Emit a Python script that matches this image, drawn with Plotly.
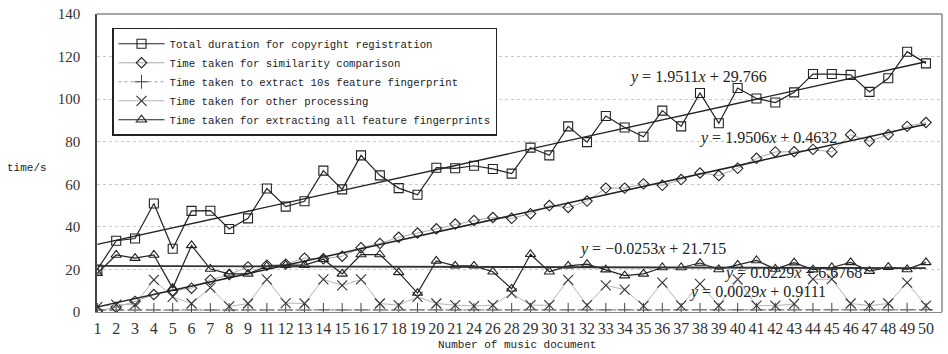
import plotly.graph_objects as go

categories = ["1", "2", "3", "4", "5", "6", "7", "8", "9", "11", "12", "13", "14", "15", "16",
              "17", "18", "19", "20", "21", "24", "26", "28", "29", "30", "31", "32", "33", "34",
              "35", "36", "37", "38", "39", "40", "41", "42", "43", "44", "45", "46", "47", "48",
              "49", "50"]

total_duration = [20, 33.5, 34.5, 51, 29.7, 47.5, 47.6, 39, 44, 58, 49.5, 52, 66.4, 57.6, 73.6,
                  64.2, 58.2, 55.1, 67.8, 67.5, 68.7, 67.2, 65, 77.2, 73.6, 87.2, 79.8, 92.1, 86.7,
                  82.3, 94.6, 87.2, 102.9, 88.7, 105.2, 100.3, 98.4, 103.2, 111.8, 111.8, 111.4,
                  103.4, 109.8, 122.3, 116.8]

similarity = [0.5, 2.2, 5, 8.2, 10, 11.2, 15.1, 17.6, 21.2, 22, 22.5, 25.3, 25, 26.2, 30.2,
              32.2, 35.1, 37.1, 39.1, 41.3, 43, 44.4, 44, 46.2, 50, 49.1, 52.1, 58.2, 58.2,
              60.2, 59.5, 62.2, 65.3, 64.1, 67.5, 72.2, 75.2, 75.3, 76.4, 75.2, 83.3, 80.2, 83.3,
              87.2, 89]

fingerprint_10s = [0.95, 0.92, 0.94, 0.97, 0.93, 0.96, 0.95, 0.94, 0.98, 0.95, 0.97, 0.94, 0.99,
                   0.96, 0.98, 0.97, 0.95, 0.99, 0.98, 0.96, 1.0, 0.97, 0.99, 1.0, 0.98, 1.01,
                   0.99, 1.0, 1.02, 0.98, 1.01, 1.0, 1.03, 0.99, 1.02, 1.01, 1.03, 1.0, 1.02, 1.04,
                   1.01, 1.03, 1.02, 1.04, 1.03]

other_processing = [2.4, 3.5, 3.5, 15.1, 7.1, 4, 11.4, 2.6, 4, 15.3, 4.2, 4, 15.3, 12.5, 15.3,
                    4, 3.2, 7.1, 4, 3.2, 2.8, 3.2, 8.9, 3.2, 3.2, 15.1, 3.2, 12.5, 10.5,
                    2.9, 13.8, 3, 13.2, 3, 15.3, 3, 3, 3.8, 15.4, 15.4, 4, 3, 4, 13.8, 3]

all_fingerprints = [18.2, 26.8, 25.3, 26.8, 11.2, 31.3, 20.2, 17.9, 17.9, 21.5, 22, 22, 24.8, 17.9,
                    27, 27, 18.6, 8.9, 24, 21.7, 21.7, 18.9, 10.9, 27.1, 18.9, 21.7, 22.5, 19.9,
                    17.1, 17.9, 20.9, 20.9, 23, 20, 22.1, 24.2, 20.2, 23.2, 19.9, 20.9, 23.3, 19.2,
                    21.1, 20, 23.3]

series_names = ["Total duration for copyright registration",
                "Time taken for similarity comparison",
                "Time taken to extract 10s feature fingerprint",
                "Time taken for other processing",
                "Time taken for extracting all feature fingerprints"]

# trendline coefficients (slope, intercept) as printed on the chart
trend_total = (1.9511, 29.766)
trend_similarity = (1.9506, 0.4632)
trend_all_fp = (-0.0253, 21.715)
trend_10s = (0.0029, 0.9111)
trend_other = (0.0229, 6.6768)

eq_labels = ["<i>y</i> = 1.9511<i>x</i> + 29.766",
             "<i>y</i> = 1.9506<i>x</i> + 0.4632",
             "<i>y</i> = −0.0253<i>x</i> + 21.715",
             "<i>y</i> = 0.0229<i>x</i> + 6.6768",
             "<i>y</i> = 0.0029<i>x</i> + 0.9111"]

W, H = 948, 354
L, R, T, B = 97, 6, 9, 42
pw, ph = W - L - R, H - T - B


def px(x):
    return (x - L) / pw


def py(y):
    return (H - B - y) / ph


fig = go.Figure()

ends = [categories[0], categories[-1]]
n = len(categories)


def trend(coef, color, width, dash="solid"):
    a, b = coef
    fig.add_trace(go.Scatter(x=ends, y=[a * 1 + b, a * n + b], mode="lines",
                             line=dict(color=color, width=width, dash=dash),
                             showlegend=False, hoverinfo="skip"))


fig.add_trace(go.Scatter(x=categories, y=total_duration, name=series_names[0], mode="lines+markers",
                         line=dict(color="#222", width=1.2),
                         marker=dict(symbol="square-open", size=9, color="#222", line=dict(width=1.1))))
fig.add_trace(go.Scatter(x=categories, y=similarity, name=series_names[1], mode="lines+markers",
                         line=dict(color="#aaa", width=1),
                         marker=dict(symbol="diamond-open", size=8, color="#222", line=dict(width=1.1))))
fig.add_trace(go.Scatter(x=categories, y=fingerprint_10s, name=series_names[2], mode="lines+markers",
                         line=dict(color="#999", width=1, dash="dot"),
                         marker=dict(symbol="cross-thin-open", size=10, color="#444", line=dict(width=1, color="#444"))))
fig.add_trace(go.Scatter(x=categories, y=other_processing, name=series_names[3], mode="lines+markers",
                         line=dict(color="#b5b5b5", width=1),
                         marker=dict(symbol="x-thin-open", size=10, color="#333", line=dict(width=1.1, color="#333"))))
fig.add_trace(go.Scatter(x=categories, y=all_fingerprints, name=series_names[4], mode="lines+markers",
                         line=dict(color="#222", width=1.2),
                         marker=dict(symbol="triangle-up-open", size=9, color="#222", line=dict(width=1.1))))

trend(trend_total, "#222", 1.3)
trend(trend_similarity, "#222", 1.5)
trend(trend_all_fp, "#333", 1.8)
trend(trend_10s, "#999", 1, "dot")

eq_pos = [(627, 73), (697, 135), (577, 248), (722, 272), (687, 292)]
for txt, (ex, ey) in zip(eq_labels, eq_pos):
    fig.add_annotation(text=txt, xref="paper", yref="paper", x=px(ex), y=py(ey),
                       xanchor="left", yanchor="middle", showarrow=False,
                       font=dict(family="Liberation Serif", size=16, color="#222"))

fig.add_annotation(text="time/s", xref="paper", yref="paper", x=px(5), y=py(166),
                   xanchor="left", yanchor="middle", showarrow=False,
                   font=dict(family="Liberation Mono", size=11, color="#222"))
fig.add_annotation(text="Number of music document", xref="paper", yref="paper", x=px(517), y=py(346),
                   xanchor="center", yanchor="middle", showarrow=False,
                   font=dict(family="Liberation Mono", size=11, color="#222"))

# plot frame (top and right)
fig.add_shape(type="line", xref="paper", yref="paper", x0=0, x1=1, y0=1, y1=1,
              line=dict(color="#888", width=1.5))
fig.add_shape(type="line", xref="paper", yref="paper", x0=1, x1=1, y0=0, y1=1,
              line=dict(color="#888", width=1.5))

fig.update_layout(
    width=W, height=H,
    margin=dict(l=L, r=R, t=T, b=B),
    paper_bgcolor="white", plot_bgcolor="white",
    font=dict(family="Liberation Serif", color="#222"),
    legend=dict(x=px(112), y=py(23), xanchor="left", yanchor="top",
                bordercolor="#222", borderwidth=1.5, bgcolor="white",
                font=dict(family="Liberation Mono", size=10.7, color="#222"),
                itemwidth=46, tracegroupgap=0, entrywidth=345, entrywidthmode="pixels"),
    xaxis=dict(type="category", categoryorder="array", categoryarray=categories,
               tickmode="array", tickvals=categories, ticktext=categories,
               range=[-0.02, (W - R - L) / 18.84], showgrid=False, zeroline=False,
               showline=True, linecolor="#888", linewidth=1, tickangle=0,
               ticks="", tickfont=dict(family="Liberation Serif", size=16, color="#333"),
               ticklabelstandoff=2),
    yaxis=dict(range=[0, 140], dtick=20, showgrid=True, gridcolor="#c8c8c8", griddash="dot",
               gridwidth=1, zeroline=False, showline=True, linecolor="#444", linewidth=1.5,
               ticks="", tickfont=dict(family="Liberation Serif", size=15, color="#333"),
               ticklabelstandoff=12),
)

fig.write_html("out.html", config={"displayModeBar": False},
               post_script="document.body.style.margin='0';")
